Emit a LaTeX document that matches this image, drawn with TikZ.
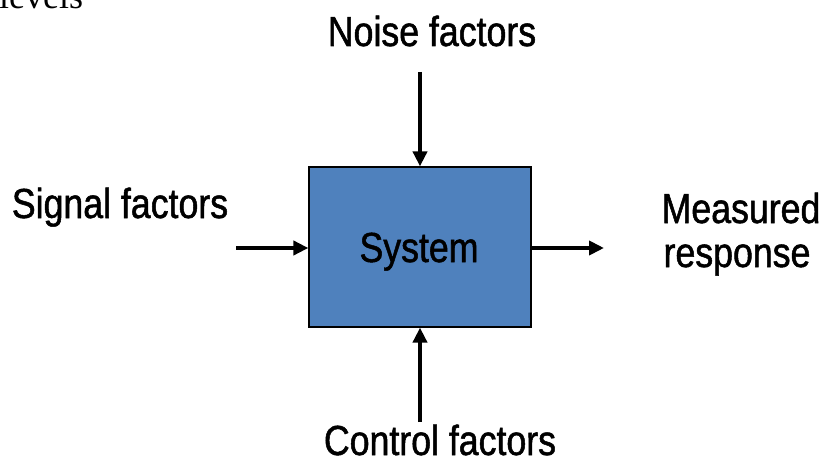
\documentclass[tikz,border=0pt]{standalone}
\usepackage{fontspec}
\usetikzlibrary{arrows.meta}
\newfontfamily\labfont[FakeStretch=0.85,FakeBold=1.2]{Liberation Sans}
\newfontfamily\serfont{Liberation Serif}
\definecolor{sysblue}{HTML}{4F81BD}
\begin{document}
\begin{tikzpicture}[x=1pt,y=1pt,
  lab/.style={font=\labfont\fontsize{42}{46}\selectfont, inner sep=0pt},
  flow/.style={line width=4.2pt, -{Triangle[length=15pt,width=14pt]}}]
\useasboundingbox (0,0) rectangle (826,461);
\clip (0,0) rectangle (826,461);
\node[anchor=base west, inner sep=0pt, font=\serfont\fontsize{36}{40}\selectfont] (lev) at (-1,452) {levels};
\node[draw=black, line width=1.2pt, fill=sysblue, minimum width=222pt, minimum height=160pt, inner sep=0pt] (sys) at (420,214) {};
\node[lab, anchor=base] (systxt) at (419,199) {System};
\node[lab, anchor=base] (noise) at (432,415) {Noise factors};
\node[lab, anchor=base] (signal) at (120,243) {Signal factors};
\node[lab, anchor=base] (meas) at (741,238) {Measured};
\node[lab, anchor=base] (resp) at (737,194) {response};
\node[lab, anchor=base] (ctrl) at (440,6) {Control factors};
\coordinate (ntop) at (420,389);
\coordinate (sleft) at (236,213);
\coordinate (mright) at (604,213);
\coordinate (cbot) at (420,39);
\draw[flow] (ntop) -- (sys.north);
\draw[flow] (sleft) -- (sleft -| sys.west);
\draw[flow] (sys.east |- mright) -- (mright);
\draw[flow] (cbot) -- (sys.south);
\end{tikzpicture}
\end{document}
